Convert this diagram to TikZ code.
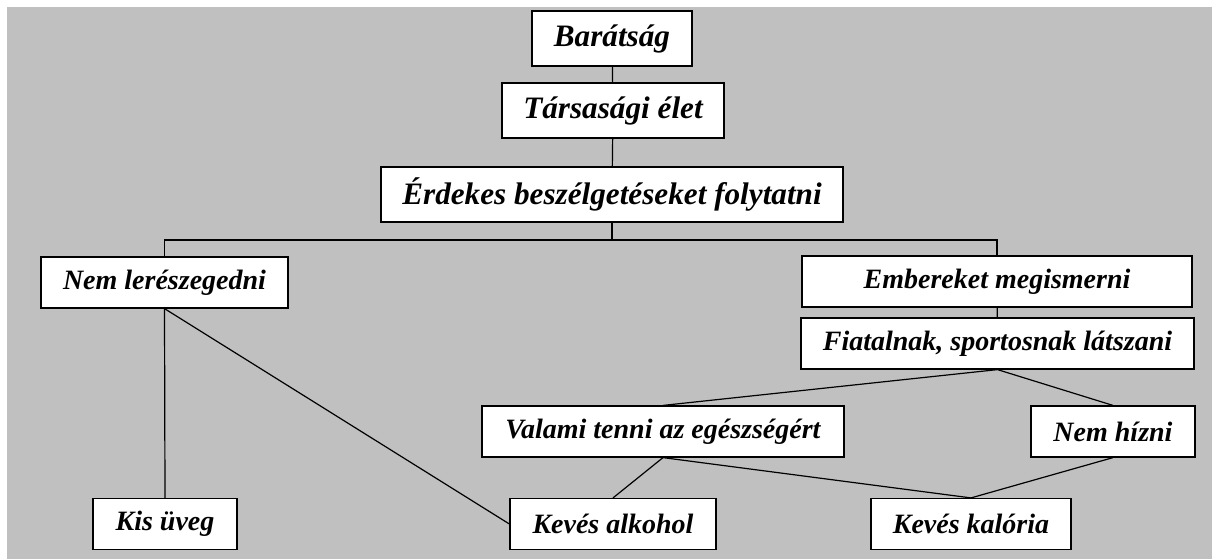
\documentclass[tikz,border=0pt]{standalone}
\usepackage{fontspec}
\setmainfont{Liberation Serif}
\usepackage{tikz}
\usetikzlibrary{positioning}
\definecolor{bggray}{RGB}{192,192,192}

\begin{document}
\begin{tikzpicture}[x=0.5pt, y=-0.5pt, line width=0.6pt,
    box/.style={draw, fill=white, inner sep=1pt, minimum height=25.5pt, align=center,
        font=\fontsize{14}{16}\selectfont\bfseries\itshape},
    topbox/.style={box, minimum height=27.5pt,
        font=\fontsize{15.6}{18}\selectfont\bfseries\itshape}]
    \useasboundingbox (0,0) rectangle (1212,559);
    \fill[bggray] (7,7) rectangle (1212,559);

    \node[topbox, minimum width=80pt] (friend) at (612,38.5) {Barátság};
    \node[topbox, minimum width=111pt] (social) at (613,110.5) {Társasági élet};
    \node[topbox, minimum width=231pt] (talk) at (612,194.5) {Érdekes beszélgetéseket folytatni};
    \node[box, minimum width=123.5pt] (sober) at (164.5,282.5) {Nem lerészegedni};
    \node[box, minimum width=195pt] (meet) at (997,281.5) {Embereket megismerni};
    \node[box, minimum width=196.5pt] (young) at (997.5,343.5) {Fiatalnak, sportosnak látszani};
    \node[box, minimum width=181pt] (health) at (663,431.5) {Valami tenni az egészségért};
    \node[box, minimum width=82pt] (slim) at (1113,431.5) {Nem hízni};
    \node[box, minimum width=72pt] (glass) at (165,524) {Kis üveg};
    \node[box, minimum width=103pt] (alcohol) at (613,524) {Kevés alkohol};
    \node[box, minimum width=100pt] (calorie) at (971,524) {Kevés kalória};

    \coordinate (split) at (612,240);

    \draw (friend) -- (social);
    \draw (social) -- (talk);
    \draw (talk.south) -- (split) -| (sober.north);
    \draw (split) -| (meet.north);
    \draw (meet) -- (young);
    \draw (young.south) -- (health.north);
    \draw (young.south) -- (slim.north);
    \draw (sober.south) -- (glass.north);
    \draw (sober.south) -- (alcohol.west);
    \draw (health.south) -- (alcohol.north);
    \draw (health.south) -- (calorie.north);
    \draw (slim.south) -- (calorie.north);
\end{tikzpicture}
\end{document}
